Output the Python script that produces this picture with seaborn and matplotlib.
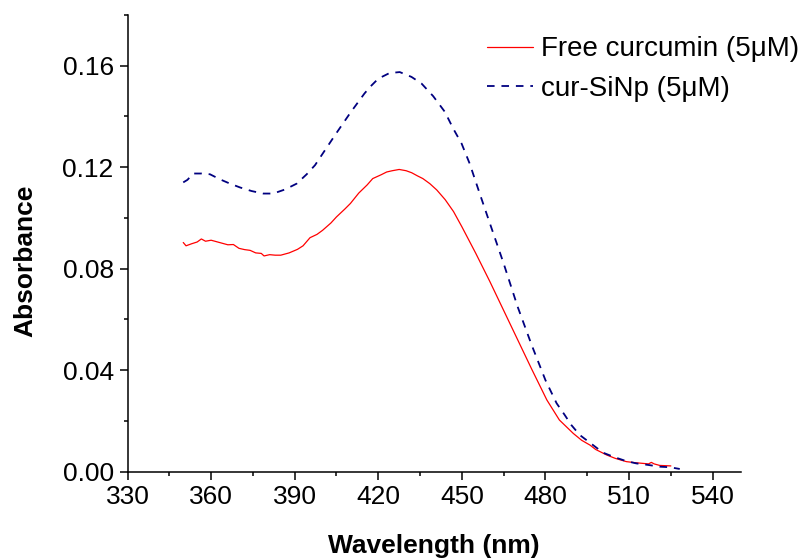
import matplotlib
matplotlib.use("Agg")
import matplotlib.pyplot as plt
from matplotlib.ticker import MultipleLocator, FormatStrFormatter
import seaborn as sns
import pandas as pd

# UV-vis absorbance spectra
free_wl = [350, 351, 353, 355, 356.5, 358, 360, 362, 364, 366, 368, 370, 372, 374,
           376, 378, 379, 381, 383, 385, 388, 391, 393, 395.5, 398, 400, 403, 405,
           408, 410, 413, 416, 418, 421, 423, 425, 427.5, 430, 432, 434, 436, 438.5,
           441, 444, 447, 450, 455, 460, 465, 470, 475, 480.5, 485, 490, 493, 496,
           498, 502, 505, 509, 512, 515, 517, 518, 519, 521, 523, 525]
free_abs = [0.0903, 0.0890, 0.0898, 0.0905, 0.0917, 0.0908, 0.0912, 0.0906, 0.0900,
            0.0894, 0.0895, 0.0880, 0.0875, 0.0872, 0.0862, 0.0860, 0.0850, 0.0855,
            0.0853, 0.0853, 0.0862, 0.0876, 0.0890, 0.0922, 0.0935, 0.0951, 0.0980,
            0.1004, 0.1035, 0.1057, 0.1098, 0.1130, 0.1155, 0.1170, 0.1181, 0.1186,
            0.1191, 0.1186, 0.1178, 0.1166, 0.1155, 0.1135, 0.1110, 0.1072, 0.1025,
            0.0965, 0.0860, 0.0750, 0.0635, 0.0520, 0.0405, 0.0282, 0.0203, 0.0150,
            0.0123, 0.0104, 0.0087, 0.0065, 0.0052, 0.0039, 0.0035, 0.0032, 0.0030,
            0.0036, 0.0030, 0.0024, 0.0023, 0.0022]

sinp_wl = [350, 351.5, 353.6, 356.6, 359.6, 363.2, 366.8, 370.4, 374.5, 378.7, 382.3,
           386.5, 390.7, 394.3, 397.3, 400.2, 405, 410, 415, 417, 420, 424, 427.7,
           431.9, 435.5, 439.7, 443.9, 446.9, 449.9, 452.8, 456.4, 460, 465, 470, 475,
           480, 484, 486.9, 489.3, 492.3, 497.1, 500.7, 504.9, 509, 512.6, 516.8, 521,
           524.6, 528.2]
sinp_abs = [0.1140, 0.1150, 0.1175, 0.1175, 0.1172, 0.1152, 0.1135, 0.1120, 0.1106,
            0.1096, 0.1096, 0.1112, 0.1135, 0.1172, 0.1208, 0.1256, 0.1335, 0.1415,
            0.1490, 0.1516, 0.1549, 0.1571, 0.1575, 0.1556, 0.1530, 0.1480, 0.1418,
            0.1352, 0.1293, 0.1214, 0.1096, 0.0980, 0.0820, 0.0650, 0.0500, 0.0360,
            0.0269, 0.0223, 0.0183, 0.0144, 0.0104, 0.0074, 0.0056, 0.0041, 0.0032,
            0.0026, 0.0019, 0.0017, 0.0010]

labels = ["Free curcumin (5\u03bcM)", "cur-SiNp (5\u03bcM)"]

sns.set_style("ticks")
plt.rcParams["font.family"] = ["Liberation Sans", "DejaVu Sans"]
plt.rcParams["font.size"] = 19
plt.rcParams["text.color"] = "black"
plt.rcParams["axes.labelcolor"] = "black"

fig = plt.figure(figsize=(7.99, 5.58), dpi=100)
ax = fig.add_axes([0.1596, 0.155, 0.9268 - 0.1596, 0.9731 - 0.155])

free_df = pd.DataFrame({"wl": free_wl, "abs": free_abs})
sinp_df = pd.DataFrame({"wl": sinp_wl, "abs": sinp_abs})

sns.lineplot(data=free_df, x="wl", y="abs", ax=ax, color="#ff0000", lw=0.9,
             label=labels[0])
sns.lineplot(data=sinp_df, x="wl", y="abs", ax=ax, color="#000080", lw=1.3,
             linestyle=(0, (4.2, 3.8)), label=labels[1])

ax.set_xlim(330, 550)
ax.set_ylim(0, 0.18)
ax.xaxis.set_major_locator(MultipleLocator(30))
ax.xaxis.set_minor_locator(MultipleLocator(15))
ax.yaxis.set_major_locator(MultipleLocator(0.04))
ax.yaxis.set_minor_locator(MultipleLocator(0.02))
ax.yaxis.set_major_formatter(FormatStrFormatter("%.2f"))
ax.set_xticks([330, 360, 390, 420, 450, 480, 510, 540])

for side in ("top", "right"):
    ax.spines[side].set_visible(False)
for side in ("left", "bottom"):
    ax.spines[side].set_linewidth(1.1)
    ax.spines[side].set_color("black")

ax.tick_params(axis="both", which="major", direction="out", length=6, width=1.1,
               labelsize=19, pad=4, colors="black")
ax.tick_params(axis="both", which="minor", direction="out", length=3, width=1.1,
               colors="black")

ax.set_xlabel("Wavelength (nm)", fontsize=19, fontweight="bold", labelpad=17.5)
ax.set_ylabel("Absorbance", fontsize=19, fontweight="bold")
ax.yaxis.set_label_coords(-0.1465, 0.461)

ax.legend(loc="upper left", bbox_to_anchor=(0.6095, 0.935),
          bbox_transform=fig.transFigure, frameon=False, fontsize=20,
          handlelength=1.65, handletextpad=0.29, borderpad=0, borderaxespad=0,
          labelspacing=0.5)

fig.savefig("out.png", dpi=100)
